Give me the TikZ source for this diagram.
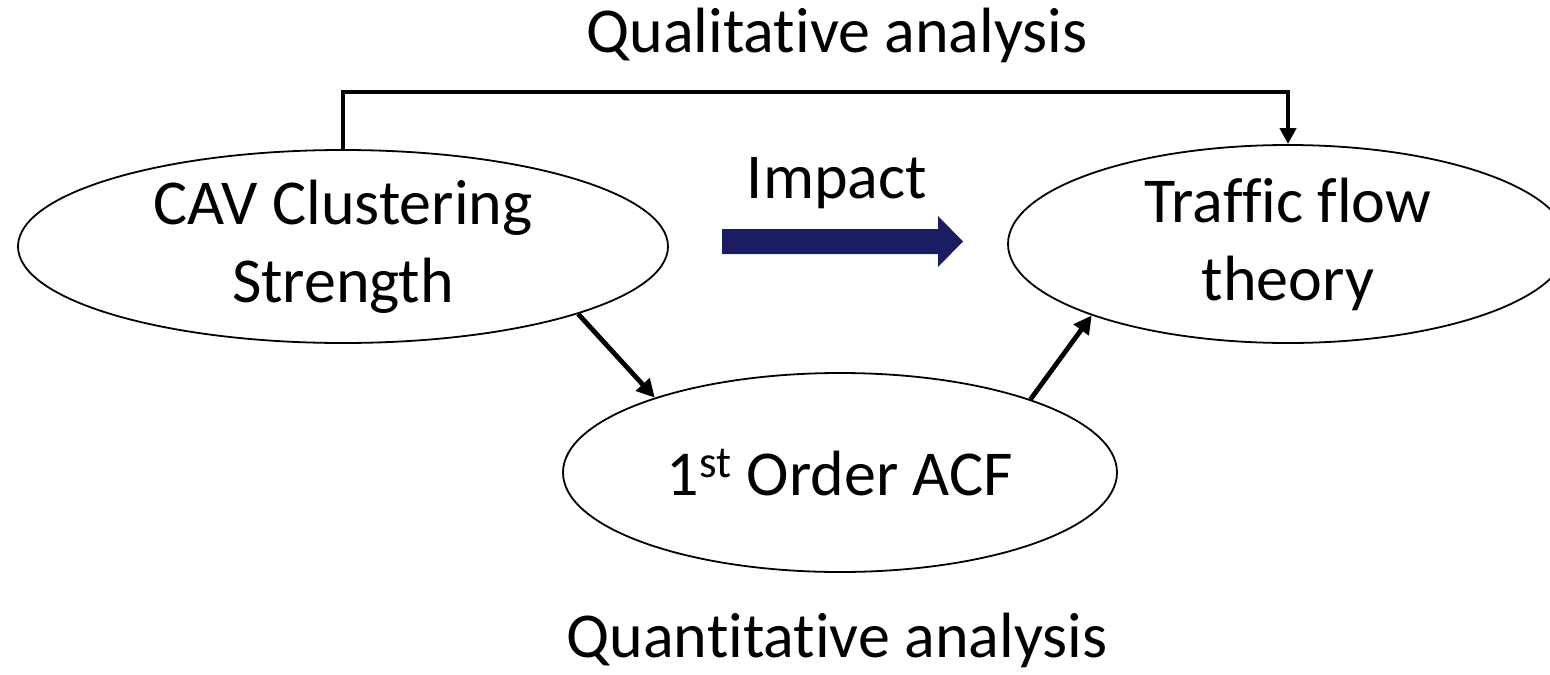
\documentclass[tikz,border=0pt]{standalone}
\usepackage{fontspec}
\setmainfont{Carlito}[Ligatures=CommonOff]
\usetikzlibrary{arrows.meta,shapes.geometric}
\definecolor{impactblue}{HTML}{1B1D63}
\begin{document}
\begin{tikzpicture}[x=0.5pt,y=-0.5pt,
  oval/.style={ellipse, draw, line width=0.9pt, inner sep=0pt, align=center,
    font=\fontsize{32}{39}\selectfont},
  label/.style={font=\fontsize{32}{39}\selectfont, inner sep=0pt},
  link/.style={line width=2pt, -{Triangle[length=8pt,width=8pt]}},
  slant/.style={line width=2.4pt, -{Triangle[length=9pt,width=9pt]}}]
\useasboundingbox (0,0) rectangle (1550,674);
% the three concepts
\node[oval, minimum width=325pt, minimum height=96.5pt] (cav) at (343,246.5)
  {CAV Clustering\\Strength};
\node[oval, minimum width=280pt, minimum height=99pt] (tft) at (1288,244)
  {Traffic flow\\theory};
\node[oval, minimum width=277pt, minimum height=99.5pt] (acf) at (840,472.5)
  {1\textsuperscript{st} Order ACF};
% captions
\node[label] (qual) at (837,35) {Qualitative analysis};
\node[label] (quan) at (837,640) {Quantitative analysis};
\node[label] (imp) at (837,183) {Impact};
% qualitative route over the top
\coordinate (tl) at (343,92);
\coordinate (tr) at (1288,92);
\draw[link] (cav.north) -- (tl) -- (tr) -- (tft.north);
% quantitative route through the ACF
\draw[slant] (cav.-16.4) -- (acf.158.8);
\draw[slant] (acf.21.3) -- (tft.200.3);
% impact arrow
\fill[impactblue] (722,229) -- (938,229) -- (938,216) -- (963,241.5)
  -- (938,267) -- (938,254) -- (722,254) -- cycle;
\end{tikzpicture}
\end{document}
